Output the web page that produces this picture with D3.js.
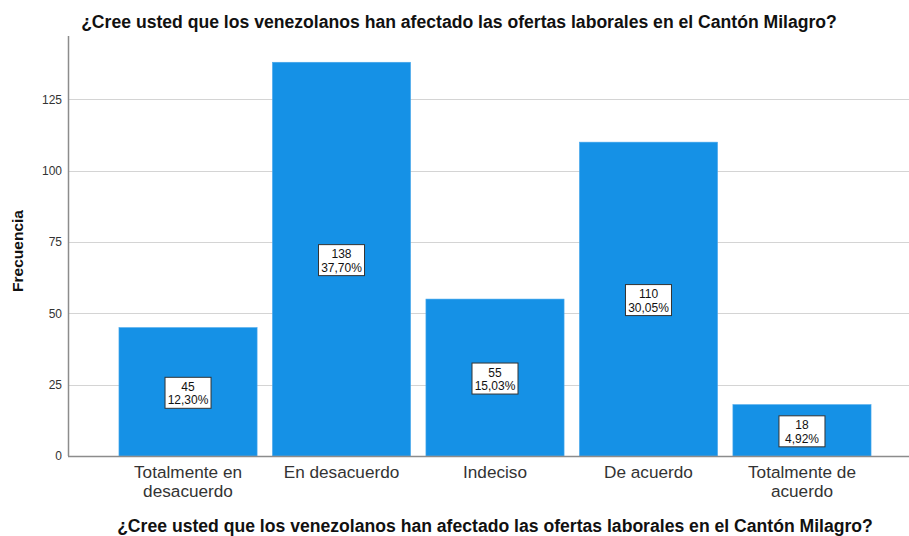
<!DOCTYPE html>
<html>
<head>
<meta charset="utf-8">
<script src="https://cdn.jsdelivr.net/npm/d3@7"></script>
<style>
  body { margin: 0; background: #fff; }
  svg { display: block; font-family: Arial, "Liberation Sans", sans-serif; }
</style>
</head>
<body>
<div id="chart"></div>
<script>
const categories = [
  ['Totalmente en', 'desacuerdo'],
  ['En desacuerdo'],
  ['Indeciso'],
  ['De acuerdo'],
  ['Totalmente de', 'acuerdo'],
];
const counts = [45, 138, 55, 110, 18];
const percents = ['12,30%', '37,70%', '15,03%', '30,05%', '4,92%'];
const yTicks = [0, 25, 50, 75, 100, 125];

const titleText = '¿Cree usted que los venezolanos han afectado las ofertas laborales en el Cantón Milagro?';

const w = 909;
const h = 536;
const margin = { top: 36, right: -13, bottom: 80, left: 68 };

const svg = d3.select('#chart')
  .append('svg')
  .attr('width', w)
  .attr('height', h);

const x = d3.scaleBand()
  .domain(d3.range(counts.length))
  .range([margin.left, w - margin.right])
  .paddingInner(0.1)
  .paddingOuter(0.332);

const y = d3.scaleLinear()
  .domain([0, 147.2])
  .range([h - margin.bottom, margin.top]);

// grid lines
svg.append('g')
  .selectAll('line')
  .data(yTicks.filter((d) => d > 0))
  .enter()
  .append('line')
  .attr('x1', margin.left)
  .attr('x2', w)
  .attr('y1', (d) => Math.round(y(d)) + 0.5)
  .attr('y2', (d) => Math.round(y(d)) + 0.5)
  .attr('stroke', '#d4d4d4')
  .attr('stroke-width', 1);

// bars
svg.append('g')
  .selectAll('rect')
  .data(counts)
  .enter()
  .append('rect')
  .attr('x', (d, i) => x(i))
  .attr('y', (d) => y(d))
  .attr('width', x.bandwidth())
  .attr('height', (d) => y(0) - y(d))
  .attr('fill', '#1591e6')
  .attr('stroke', '#4aa8ec')
  .attr('stroke-width', 0.6);

// axes
const yAxis = d3.axisLeft(y).tickValues(yTicks).tickSize(0).tickPadding(6);
const yG = svg.append('g')
  .attr('transform', `translate(${margin.left},0)`)
  .call(yAxis);
yG.select('.domain').remove();
yG.selectAll('text')
  .attr('font-size', 12)
  .attr('fill', '#333')
  .attr('font-family', 'Arial, "Liberation Sans", sans-serif');

svg.append('line')
  .attr('x1', margin.left + 0.5)
  .attr('x2', margin.left + 0.5)
  .attr('y1', margin.top)
  .attr('y2', y(0))
  .attr('stroke', '#8c8c8c')
  .attr('stroke-width', 1.5);

svg.append('line')
  .attr('x1', margin.left)
  .attr('x2', w)
  .attr('y1', y(0) + 0.5)
  .attr('y2', y(0) + 0.5)
  .attr('stroke', '#8c8c8c')
  .attr('stroke-width', 1.5);

// category labels
const xLabels = svg.append('g')
  .selectAll('text')
  .data(categories)
  .enter()
  .append('text')
  .attr('x', (d, i) => x(i) + x.bandwidth() / 2)
  .attr('y', y(0) + 22)
  .attr('text-anchor', 'middle')
  .attr('font-size', 17.2)
  .attr('fill', '#333');
xLabels.selectAll('tspan')
  .data((d) => d)
  .enter()
  .append('tspan')
  .attr('x', function () { return this.parentNode.getAttribute('x'); })
  .attr('dy', (d, i) => (i === 0 ? 0 : 19))
  .text((d) => d);

// value boxes
const boxW = 46;
const boxH = 31;
const lbl = svg.append('g')
  .selectAll('g')
  .data(counts)
  .enter()
  .append('g')
  .attr('transform', (d, i) => `translate(${x(i) + x.bandwidth() / 2},${(y(d) + y(0)) / 2 + 1})`);
lbl.append('rect')
  .attr('x', -boxW / 2)
  .attr('y', -boxH / 2)
  .attr('width', boxW)
  .attr('height', boxH)
  .attr('fill', '#fff')
  .attr('stroke', '#333')
  .attr('stroke-width', 1);
lbl.append('text')
  .attr('text-anchor', 'middle')
  .attr('y', -2)
  .attr('font-size', 12)
  .attr('fill', '#111')
  .text((d) => d);
lbl.append('text')
  .attr('text-anchor', 'middle')
  .attr('y', 11.5)
  .attr('font-size', 12)
  .attr('fill', '#111')
  .text((d, i) => percents[i]);

// titles
svg.append('text')
  .attr('x', 459)
  .attr('y', 28)
  .attr('text-anchor', 'middle')
  .attr('font-size', 17.6)
  .attr('font-weight', 'bold')
  .attr('fill', '#111')
  .text(titleText);

svg.append('text')
  .attr('x', 495)
  .attr('y', 532)
  .attr('text-anchor', 'middle')
  .attr('font-size', 17.6)
  .attr('font-weight', 'bold')
  .attr('fill', '#111')
  .text(titleText);

svg.append('text')
  .attr('transform', `translate(23,${251}) rotate(-90)`)
  .attr('text-anchor', 'middle')
  .attr('font-size', 15.5)
  .attr('font-weight', 'bold')
  .attr('fill', '#111')
  .text('Frecuencia');
</script>
</body>
</html>
